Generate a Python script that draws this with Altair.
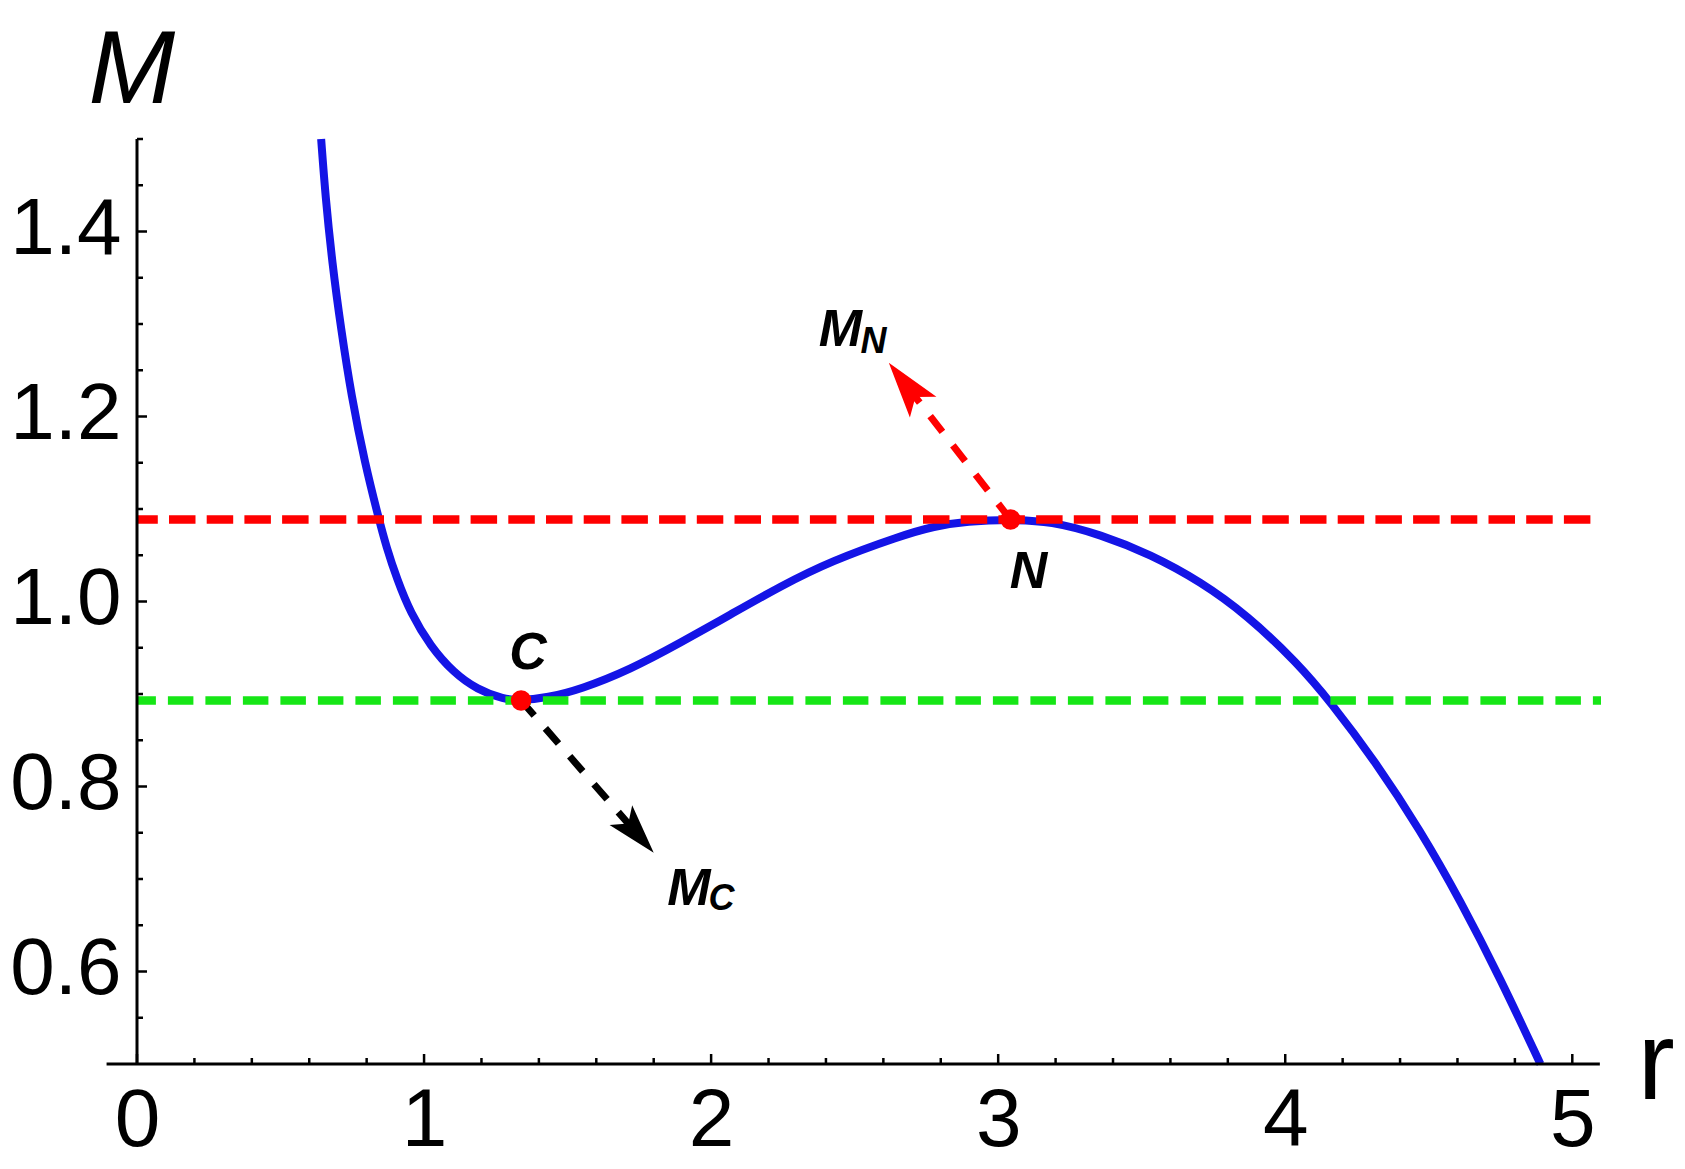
import math
import altair as alt
import pandas as pd

# ---------------- data ----------------
r_curve = [0.6415, 0.6564, 0.680, 0.711, 0.747, 0.7934, 0.843, 0.868, 0.906, 0.9526,
           1.022, 1.1035, 1.185, 1.278, 1.338, 1.429, 1.545, 1.719, 1.893, 2.068,
           2.242, 2.416, 2.660, 2.776, 2.892, 3.043, 3.183, 3.357, 3.531, 3.705,
           3.868, 4.042, 4.160, 4.309, 4.472, 4.611, 4.750, 4.889]
M_curve = [1.500, 1.438, 1.366, 1.294, 1.222, 1.150, 1.0886, 1.0598, 1.0238, 0.9878,
           0.9517, 0.9229, 0.9049, 0.8941, 0.893, 0.896, 0.905, 0.9265, 0.9553, 0.986,
           1.0166, 1.0436, 1.071, 1.0814, 1.0868, 1.0886, 1.0868, 1.0724, 1.0508, 1.0215,
           0.985, 0.9337, 0.8905, 0.829, 0.752, 0.676, 0.592, 0.500]

level_names = ["N", "C"]
level_M = [1.0886, 0.893]
level_colors = ["#ff0000", "#16e616"]

pts_name = ["C", "N"]
pts_r = [1.338, 3.043]
pts_M = [0.893, 1.0886]

arrow_colors = ["black", "#ff0000"]
arrow_tip_r = [1.800, 2.619]
arrow_tip_M = [0.7283, 1.258]

pt_label_text = ["C", "N"]
pt_label_r = [1.362, 3.106]
pt_label_M = [0.9265, 1.0148]

arrow_label_text = ["M", "M"]
arrow_label_r = [1.847, 2.375]
arrow_label_M = [0.6724, 1.276]
sub_label_text = ["C", "N"]
sub_label_r = [1.991, 2.520]
sub_label_M = [0.667, 1.2688]

x_major = [0, 1, 2, 3, 4, 5]
x_minor = [0.2, 0.4, 0.6, 0.8, 1.2, 1.4, 1.6, 1.8, 2.2, 2.4, 2.6, 2.8,
           3.2, 3.4, 3.6, 3.8, 4.2, 4.4, 4.6, 4.8]
y_major = [0.6, 0.8, 1.0, 1.2, 1.4]
y_minor = [0.55, 0.65, 0.7, 0.75, 0.85, 0.9, 0.95, 1.05, 1.1, 1.15,
           1.25, 1.3, 1.35, 1.45, 1.5]

X_MIN, X_MAX = 0.0, 5.1
Y_MIN, Y_MAX = 0.5, 1.5
X_AXIS_LEFT = -0.106
X_AXIS_RIGHT = 5.096

# ---------------- layout / style ----------------
W, H = 1464, 925
FONT = "Liberation Sans"
BLUE = "#1414e6"
px_r = W / (X_MAX - X_MIN)
px_M = H / (Y_MAX - Y_MIN)

xs = alt.Scale(domain=[X_MIN, X_MAX], nice=False, zero=False)
ys = alt.Scale(domain=[Y_MIN, Y_MAX], nice=False, zero=False)

x_axis = alt.Axis(
    title="r", values=x_major, format="d", grid=False, domain=False,
    ticks=False, tickSize=0, labelFont=FONT, labelFontSize=82, labelColor="black",
    labelPadding=16, labelFlush=False, labelOverlap=False, labelBound=False,
    titleFont=FONT, titleFontSize=112, titleFontWeight="normal", titleColor="black",
    titleAngle=0, titleX=1500, titleY=34, titleAlign="left", titleBaseline="alphabetic",
)
y_axis = alt.Axis(
    title="M", values=y_major, format=".1f", grid=False, domain=False,
    ticks=False, tickSize=0, labelFont=FONT, labelFontSize=80, labelColor="black",
    labelPadding=16, labelOffset=-2, labelBaseline="middle", labelFlush=False,
    labelOverlap=False, labelBound=False,
    titleFont=FONT, titleFontSize=104, titleFontWeight="normal", titleFontStyle="italic",
    titleColor="black", titleAngle=0, titleX=-49, titleY=-37, titleAlign="left",
    titleBaseline="alphabetic",
)


def X(f="r"):
    return alt.X(f, type="quantitative", scale=xs, axis=x_axis)


def Y(f="M"):
    return alt.Y(f, type="quantitative", scale=ys, axis=y_axis)


# ---------------- tables ----------------
curve_df = pd.DataFrame({"r": r_curve, "M": M_curve})
levels_df = pd.DataFrame({"name": level_names, "M": level_M, "col": level_colors,
                          "r": [X_MIN] * 2, "r2": [X_MAX] * 2})
pts_df = pd.DataFrame({"name": pts_name, "r": pts_r, "M": pts_M})

# arrows: shaft from point to just behind the head, head at the tip
head_len = [50, 56]
shaft_rows, head_rows = [], []
for i in range(2):
    dx = (arrow_tip_r[i] - pts_r[i]) * px_r
    dy = -(arrow_tip_M[i] - pts_M[i]) * px_M  # screen coordinates (down positive)
    L = math.hypot(dx, dy)
    ux, uy = dx / L, dy / L
    back = head_len[i] * 0.75
    end_r = arrow_tip_r[i] - back * ux / px_r
    end_M = arrow_tip_M[i] + back * uy / px_M
    shaft_rows.append({"r": pts_r[i], "M": pts_M[i], "r2": end_r, "M2": end_M,
                       "col": arrow_colors[i]})
    ang = math.degrees(math.atan2(ux, -uy)) % 360
    head_rows.append({"r": arrow_tip_r[i], "M": arrow_tip_M[i], "col": arrow_colors[i],
                      "ang": ang, "sz": head_len[i] ** 2})
shaft_df = pd.DataFrame(shaft_rows)
head_df = pd.DataFrame(head_rows)

xt_df = pd.DataFrame({"r": x_major + x_minor, "M": [Y_MIN] * (len(x_major) + len(x_minor)),
                      "kind": ["major"] * len(x_major) + ["minor"] * len(x_minor)})
yt_df = pd.DataFrame({"M": y_major + y_minor, "r": [0.0] * (len(y_major) + len(y_minor)),
                      "kind": ["major"] * len(y_major) + ["minor"] * len(y_minor)})
xline_df = pd.DataFrame({"r": [X_AXIS_LEFT], "r2": [X_AXIS_RIGHT], "M": [Y_MIN]})
yline_df = pd.DataFrame({"r": [0.0], "M": [Y_MIN], "M2": [Y_MAX]})

ptlab_df = pd.DataFrame({"t": pt_label_text, "r": pt_label_r, "M": pt_label_M})
arrlab_df = pd.DataFrame({"t": arrow_label_text, "r": arrow_label_r, "M": arrow_label_M})
sublab_df = pd.DataFrame({"t": sub_label_text, "r": sub_label_r, "M": sub_label_M})

# ---------------- layers ----------------
curve = alt.Chart(curve_df).mark_line(color=BLUE, strokeWidth=8, interpolate="basis").encode(
    x=X(), y=Y())

red_level = alt.Chart(levels_df[levels_df["name"] == "N"]).mark_rule(
    strokeWidth=8.5, strokeDash=[26.5, 11.2], strokeDashOffset=5.7,
    color=level_colors[0]).encode(x=X(), x2=alt.X2("r2"), y=Y())
green_level = alt.Chart(levels_df[levels_df["name"] == "C"]).mark_rule(
    strokeWidth=8.5, strokeDash=[25.5, 12], strokeDashOffset=6.6,
    color=level_colors[1]).encode(x=X(), x2=alt.X2("r2"), y=Y())

shafts = alt.Chart(shaft_df).mark_rule(strokeWidth=7, strokeDash=[20, 17]).encode(
    x=X(), x2=alt.X2("r2"), y=Y(), y2=alt.Y2("M2"), color=alt.Color("col:N", scale=None))

heads = alt.Chart(head_df).mark_point(
    shape="M0,0L0.6,2L0,1.55L-0.6,2Z", filled=True, opacity=1, strokeWidth=0).encode(
    x=X(), y=Y(), color=alt.Color("col:N", scale=None),
    angle=alt.Angle("ang:Q", scale=None), size=alt.Size("sz:Q", scale=None))

dots = alt.Chart(pts_df).mark_circle(color="#ff0000", size=420, opacity=1).encode(x=X(), y=Y())

xline = alt.Chart(xline_df).mark_rule(color="black", strokeWidth=3).encode(
    x=X(), x2=alt.X2("r2"), y=Y())
yline = alt.Chart(yline_df).mark_rule(color="black", strokeWidth=3).encode(
    x=X(), y=Y(), y2=alt.Y2("M2"))
xt_major = alt.Chart(xt_df[xt_df["kind"] == "major"]).mark_rule(
    color="black", strokeWidth=2.5, y2Offset=-10).encode(x=X(), y=Y(), y2=alt.Y2("M"))
xt_minor = alt.Chart(xt_df[xt_df["kind"] == "minor"]).mark_rule(
    color="black", strokeWidth=2.5, y2Offset=-6).encode(x=X(), y=Y(), y2=alt.Y2("M"))
yt_major = alt.Chart(yt_df[yt_df["kind"] == "major"]).mark_rule(
    color="black", strokeWidth=2.5, x2Offset=10).encode(x=X(), x2=alt.X2("r"), y=Y())
yt_minor = alt.Chart(yt_df[yt_df["kind"] == "minor"]).mark_rule(
    color="black", strokeWidth=2.5, x2Offset=6).encode(x=X(), x2=alt.X2("r"), y=Y())

pt_labels = alt.Chart(ptlab_df).mark_text(
    font=FONT, fontSize=52, fontStyle="italic", fontWeight="bold", color="black",
    align="center", baseline="alphabetic").encode(x=X(), y=Y(), text="t:N")
arr_labels = alt.Chart(arrlab_df).mark_text(
    font=FONT, fontSize=52, fontStyle="italic", fontWeight="bold", color="black",
    align="left", baseline="alphabetic").encode(x=X(), y=Y(), text="t:N")
sub_labels = alt.Chart(sublab_df).mark_text(
    font=FONT, fontSize=36, fontStyle="italic", fontWeight="bold", color="black",
    align="left", baseline="alphabetic").encode(x=X(), y=Y(), text="t:N")

chart = alt.layer(
    curve, red_level, green_level, xline, yline, xt_major, xt_minor, yt_major, yt_minor,
    shafts, heads, dots, pt_labels, arr_labels, sub_labels,
).properties(
    width=W, height=H,
    autosize=alt.AutoSizeParams(type="none"),
    padding={"left": 129, "top": 131, "right": 76, "bottom": 105},
    background="white",
).configure_view(stroke=None)

chart.save("out.html", embed_options={"renderer": "svg", "actions": False})
